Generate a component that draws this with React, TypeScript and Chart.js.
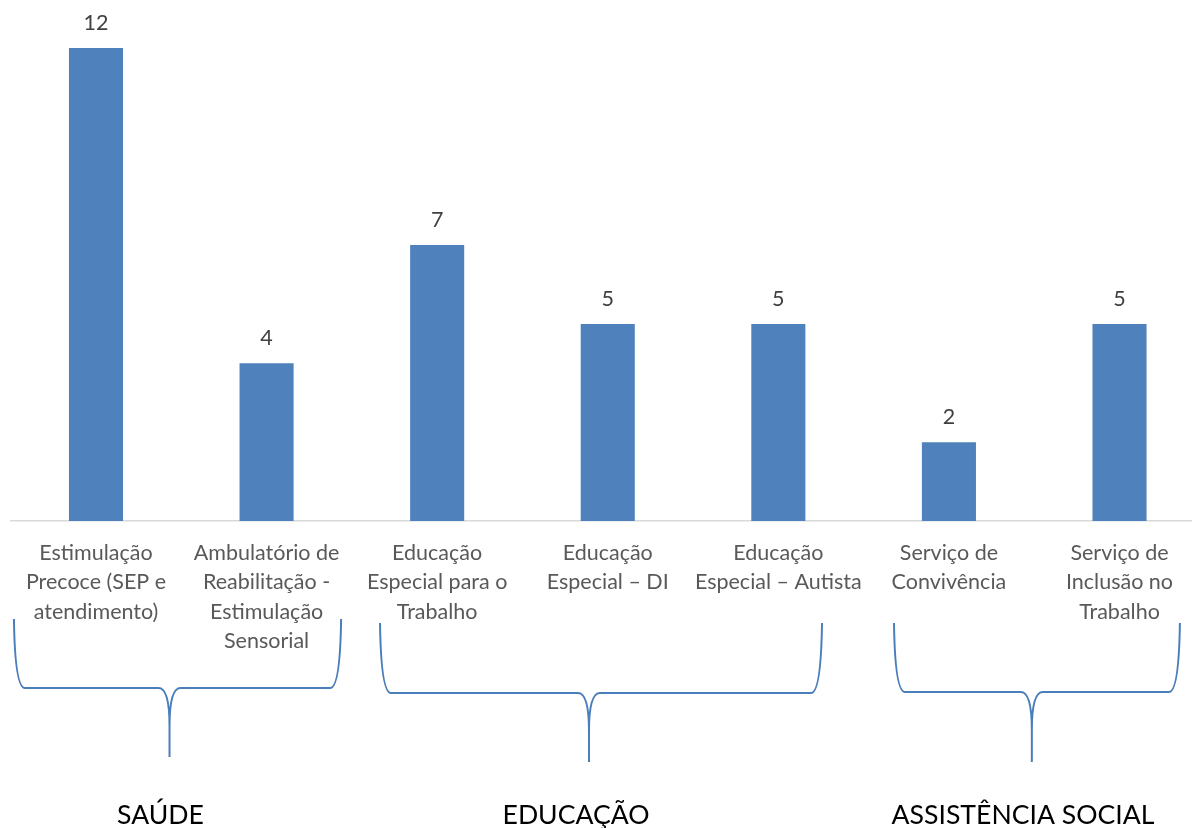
import React, { useEffect, useRef } from "react";
import { Chart, registerables } from "chart.js";

Chart.register(...registerables);

const categories: string[][] = [
  ["Estimulação", "Precoce (SEP e", "atendimento)"],
  ["Ambulatório de", "Reabilitação -", "Estimulação", "Sensorial"],
  ["Educação", "Especial para o", "Trabalho"],
  ["Educação", "Especial – DI"],
  ["Educação", "Especial – Autista"],
  ["Serviço de", "Convivência"],
  ["Serviço de", "Inclusão no", "Trabalho"],
];
const values: number[] = [12, 4, 7, 5, 5, 2, 5];

const groupLabels: string[] = ["SAÚDE", "EDUCAÇÃO", "ASSISTÊNCIA SOCIAL"];
const groupFrom: number[] = [0, 2, 5];
const groupTo: number[] = [1, 4, 6];

// brace geometry (layout only), offsets in category-width units
const BRACE_X = [
  { left: -0.481, right: 0.437, tip: 0.431, label: 0.378 },
  { left: -0.335, right: 0.256, tip: 0.89, label: 0.814 },
  { left: -0.322, right: 0.354, tip: 0.486, label: 0.434 },
];
const BRACE_Y = [
  { top: 619, mid: 688, bottom: 757 },
  { top: 623, mid: 693, bottom: 762 },
  { top: 623, mid: 692, bottom: 762 },
];

const FONT = "Lato";
const BAR_COLOR = "#4f81bd";
const BRACE_COLOR = "#4a7ebb";

const overlayPlugin = {
  id: "overlay",
  afterDatasetsDraw(chart: any) {
    const ctx = chart.ctx;
    const meta = chart.getDatasetMeta(0);
    ctx.save();
    ctx.font = `21.5px ${FONT}`;
    ctx.fillStyle = "#404040";
    ctx.textAlign = "center";
    ctx.textBaseline = "alphabetic";
    meta.data.forEach((bar: any, i: number) => {
      ctx.fillText(String(values[i]), bar.x, bar.y - 18);
    });
    ctx.restore();
  },
  afterDraw(chart: any) {
    const ctx = chart.ctx;
    const xs = chart.scales.x;
    const cw = chart.chartArea.width / categories.length;
    ctx.save();
    ctx.strokeStyle = BRACE_COLOR;
    ctx.lineWidth = 2;
    ctx.lineCap = "butt";
    groupLabels.forEach((lbl, g) => {
      const p0 = xs.getPixelForValue(groupFrom[g]);
      const p1 = xs.getPixelForValue(groupTo[g]);
      const bx = BRACE_X[g];
      const by = BRACE_Y[g];
      const xl = p0 + bx.left * cw;
      const xr = p1 + bx.right * cw;
      const tip = p0 + bx.tip * cw;
      const r = 11;
      const cusp = 38;
      ctx.beginPath();
      ctx.moveTo(xl, by.top);
      ctx.quadraticCurveTo(xl + 1, by.mid, xl + r, by.mid);
      ctx.lineTo(tip - r, by.mid);
      ctx.quadraticCurveTo(tip, by.mid, tip, by.mid + cusp);
      ctx.lineTo(tip, by.bottom);
      ctx.moveTo(tip, by.mid + cusp);
      ctx.quadraticCurveTo(tip, by.mid, tip + r, by.mid);
      ctx.lineTo(xr - r, by.mid);
      ctx.quadraticCurveTo(xr - 1, by.mid, xr, by.top);
      ctx.stroke();

      ctx.font = `26.6px ${FONT}`;
      ctx.fillStyle = "#000000";
      ctx.textAlign = "center";
      ctx.textBaseline = "alphabetic";
      ctx.fillText(lbl, p0 + bx.label * cw, 824);
    });
    ctx.restore();
  },
};

export default function App() {
  const ref = useRef<HTMLCanvasElement | null>(null);
  useEffect(() => {
    if (!ref.current) return;
    const chart = new Chart(ref.current, {
      type: "bar",
      data: {
        labels: categories as any,
        datasets: [
          {
            data: values,
            backgroundColor: BAR_COLOR,
            categoryPercentage: 1,
            barPercentage: 0.317,
          },
        ],
      },
      options: {
        animation: false,
        responsive: true,
        maintainAspectRatio: false,
        devicePixelRatio: 1,
        layout: { padding: { left: 10.7, right: 5.2, top: 48, bottom: 0 } },
        plugins: {
          legend: { display: false },
          tooltip: { enabled: false },
          title: { display: false },
        },
        scales: {
          x: {
            grid: { display: false, drawTicks: false },
            border: { display: true, color: "#d9d9d9", width: 1.5 },
            ticks: {
              autoSkip: false,
              maxRotation: 0,
              minRotation: 0,
              padding: 17,
              color: "#595959",
              font: { family: FONT, size: 21.5, lineHeight: 29.5 / 21.5 },
            },
            afterFit: (scale: any) => {
              scale.height = 307;
            },
          },
          y: {
            display: false,
            min: 0,
            max: 12,
          },
        },
      },
      plugins: [overlayPlugin],
    });
    return () => chart.destroy();
  }, []);
  return (
    <div
      style={{
        position: "absolute",
        left: 0,
        top: 0,
        width: 1192,
        height: 828,
        overflow: "hidden",
        background: "#ffffff",
      }}
    >
      <div style={{ position: "relative", width: 1210, height: 828 }}>
        <canvas ref={ref} />
      </div>
    </div>
  );
}
